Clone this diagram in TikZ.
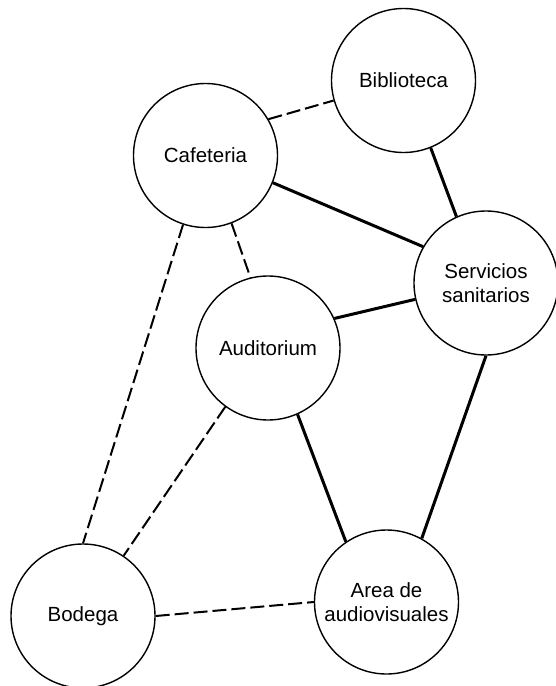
\documentclass[tikz,border=0pt]{standalone}
\usepackage{fontspec}
\setmainfont{Liberation Sans}
\usepackage{tikz}
\usetikzlibrary{positioning}
\tikzset{
  room/.style={circle,draw=black,line width=1.4pt,minimum size=144pt,inner sep=0pt,
    align=center,font=\fontsize{20.5}{24.5}\selectfont},
  link/.style={draw=black,line width=3pt},
  weak link/.style={draw=black,line width=2pt,dash pattern=on 14pt off 5pt},
}

\begin{document}
\begin{tikzpicture}[x=1pt,y=-1pt]
  \useasboundingbox (0,0) rectangle (555,686);
  % rooms
  \node[room] (bib)  at (403.5,80.5) {Biblioteca};
  \node[room] (caf)  at (205.5,155.5) {Cafeteria};
  \node[room] (serv) at (486,283) {Servicios\\sanitarios};
  \node[room] (aud)  at (268,348) {Auditorium};
  \node[room] (bod)  at (83,616) {Bodega};
  \node[room] (area) at (386.5,602) {Area de\\audiovisuales};
  % strong relations
  \foreach \a/\b in {caf.-22/serv.150, bib.-68/serv.114, serv.193/aud.24,
                     serv.-90/area.61, aud.-66/area.124}
    \draw[link] (\a) -- (\b);
  % weak relations
  \foreach \a/\b in {caf.30/bib.196, caf.-69/aud.104, caf.252/bod.90,
                     aud.234/bod.56, bod.0/area.180}
    \draw[weak link] (\a) -- (\b);
\end{tikzpicture}
\end{document}
